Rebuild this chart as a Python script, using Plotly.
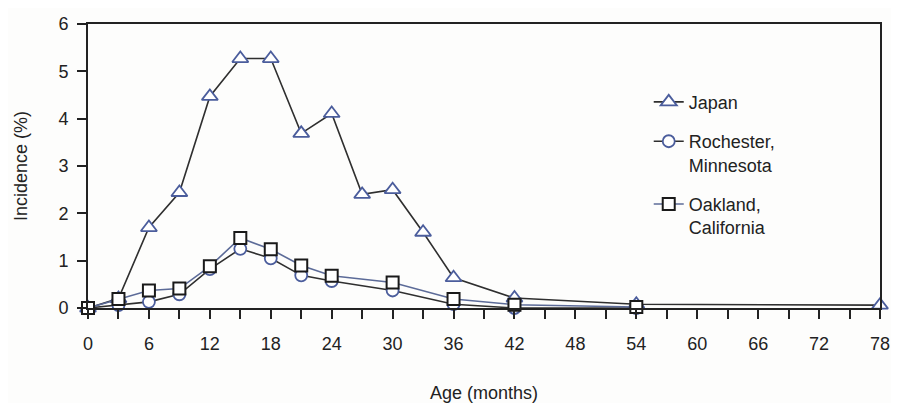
import plotly.graph_objects as go

age_japan = [0, 3, 6, 9, 12, 15, 18, 21, 24, 27, 30, 33, 36, 42, 54, 78]
japan = [0.0, 0.2, 1.70, 2.44, 4.47, 5.27, 5.27, 3.69, 4.11, 2.40, 2.50, 1.60, 0.64, 0.21, 0.08, 0.06]

age_us = [0, 3, 6, 9, 12, 15, 18, 21, 24, 30, 36, 42, 54]
rochester = [0.0, 0.06, 0.13, 0.29, 0.82, 1.25, 1.05, 0.69, 0.57, 0.37, 0.08, 0.0, 0.0]
oakland = [0.0, 0.19, 0.37, 0.41, 0.88, 1.48, 1.24, 0.90, 0.68, 0.54, 0.19, 0.07, 0.02]

x_ticks = list(range(0, 79, 6))
y_ticks = list(range(0, 7))

BLUE = "#4b5d9c"
DARK = "#2f2f2f"
FONT = "Liberation Sans, Arial, sans-serif"
BG = "#fdfdfc"

fig = go.Figure()
fig.add_trace(go.Scatter(
    x=age_japan, y=japan, name="Japan", mode="lines+markers", legendgroup="a",
    line=dict(color=DARK, width=1.6),
    marker=dict(symbol="triangle-up", size=14, color="white",
                line=dict(color=BLUE, width=1.8)),
    cliponaxis=False))
fig.add_trace(go.Scatter(
    x=age_us, y=rochester, name="Rochester,<br>Minnesota", mode="lines+markers", legendgroup="b",
    line=dict(color=DARK, width=1.6),
    marker=dict(symbol="circle", size=12, color="white",
                line=dict(color=BLUE, width=1.8)),
    cliponaxis=False))
fig.add_trace(go.Scatter(
    x=age_us, y=oakland, name="Oakland,<br>California", mode="lines+markers", legendgroup="c",
    line=dict(color="#5c6b98", width=1.6),
    marker=dict(symbol="square", size=12, color="white",
                line=dict(color="#1a1a1a", width=2)),
    cliponaxis=False))

fig.update_layout(
    width=883, height=395,
    margin=dict(l=80, r=11, t=16, b=95, autoexpand=False),
    paper_bgcolor=BG, plot_bgcolor=BG,
    font=dict(family=FONT, size=18, color="#222"),
    showlegend=True,
    legend=dict(x=0.708, y=0.79, xanchor="left", yanchor="top",
                bgcolor="rgba(0,0,0,0)", font=dict(size=18, color="#222"),
                valign="top", tracegroupgap=13, itemwidth=30),
)
fig.update_xaxes(
    range=[0, 78], tickvals=x_ticks, ticktext=[str(v) for v in x_ticks],
    ticks="outside", ticklen=9, tickwidth=1.6, tickcolor="#222",
    minor=dict(dtick=3, tick0=0, ticks="outside", ticklen=9, tickwidth=1.6, tickcolor="#222"),
    showline=True, linecolor="#222", linewidth=2, mirror=True,
    showgrid=False, zeroline=False, automargin=False,
    tickfont=dict(size=18), ticklabelstandoff=9,
    title=dict(text="Age (months)", font=dict(size=18), standoff=34),
)
fig.update_yaxes(
    range=[0, 6], tickvals=y_ticks,
    ticks="outside", ticklen=9, tickwidth=1.6, tickcolor="#222",
    showline=True, linecolor="#222", linewidth=2, mirror=True,
    showgrid=False, zeroline=False, automargin=False,
    tickfont=dict(size=18), ticklabelstandoff=5,
    title=dict(text="Incidence (%)", font=dict(size=18), standoff=26),
)

fig.write_html("out.html")
